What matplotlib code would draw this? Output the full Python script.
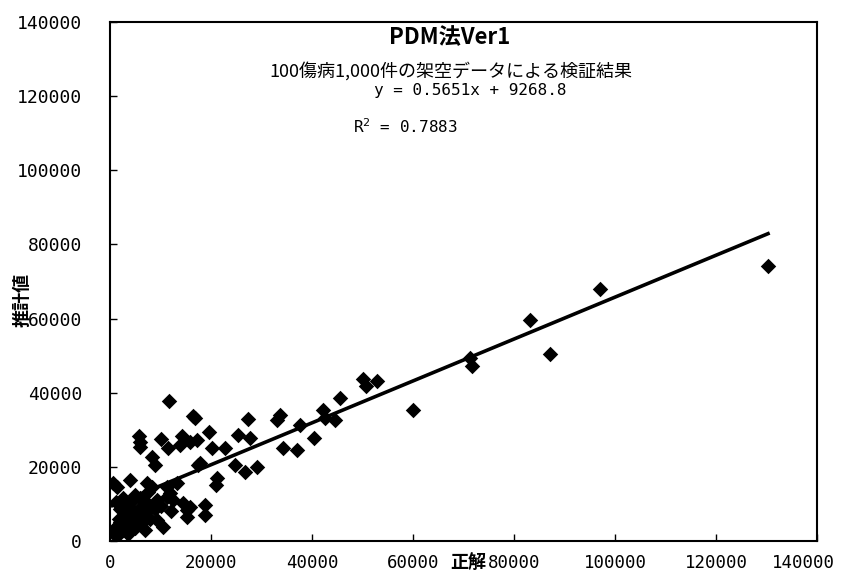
import matplotlib
matplotlib.use("Agg")
import matplotlib.pyplot as plt
import matplotlib.transforms as mtransforms
import numpy as np

plt.rcParams['font.family'] = ['Noto Sans CJK JP', 'DejaVu Sans']

# 正解 (true value) and 推計値 (estimated value)
x_true = [130300, 97000, 87100, 83200, 71300, 71700, 60000, 50100, 50700, 52900,
          45500, 42200, 42600, 44600, 40400, 37600, 37000,
          11700, 16400, 16800, 27300, 33700, 33100,
          5700, 5900, 5900, 10100, 11500, 14300, 13900, 15800, 17200, 19600,
          20200, 22800, 25300, 27700, 34300,
          8300, 8900, 17800, 24800, 26700, 29100, 21200, 21000,
          500, 1400, 4000, 18800, 15200, 5900,
          7300, 8300, 7500, 11300, 11900, 13300, 17400,
          14500, 15800, 15200, 18800, 9300, 11300, 12500, 9300, 10500,
          1000, 1500, 2000, 2500, 3000, 3500, 4000, 4500, 5000, 5500,
          6000, 6500, 7000, 2000, 3500, 1200, 4500, 6000, 7500, 8000,
          1800, 3000, 800, 2500, 5000, 7000, 9000, 10000, 12000]
y_est = [74200, 68000, 50400, 59600, 49400, 47200, 35300, 43700, 41800, 43200,
         38600, 35300, 33200, 32600, 27800, 31300, 24500,
         37800, 33700, 33200, 32900, 34000, 32600,
         28300, 26700, 25400, 27500, 25100, 28300, 25900, 26700, 27200, 29400,
         25100, 25100, 28600, 27800, 25100,
         22700, 20500, 21000, 20500, 18600, 20000, 17000, 15100,
         15600, 14600, 16500, 9700, 8400, 4900,
         15600, 14600, 13200, 14600, 12900, 15600, 20500,
         10200, 9200, 6500, 7000, 11000, 11900, 11000, 5700, 3800,
         3500, 1500, 5000, 3000, 7000, 2000, 5500, 8000, 3500, 6500,
         9000, 5000, 7500, 8500, 9500, 10500, 11000, 11500, 10000, 6000,
         6000, 4000, 2000, 11500, 12500, 3000, 8500, 9500, 8000]

slope = 0.5651
intercept = 9268.8
x_ticks = [0, 20000, 40000, 60000, 80000, 100000, 120000, 140000]
y_ticks = [0, 20000, 40000, 60000, 80000, 100000, 120000, 140000]

fig = plt.figure(figsize=(8.44, 5.82), dpi=100)
ax = fig.add_axes([110/844, 41/582, 707/844, 519/582])

ax.scatter(x_true, y_est, marker='D', s=62, color='black', linewidths=0, zorder=3)
xl = np.array([min(x_true), max(x_true)])
ax.plot(xl, slope*xl + intercept, color='black', lw=2.6, zorder=4)

ax.set_xlim(0, 140000)
ax.set_ylim(0, 140000)
ax.set_xticks(x_ticks)
ax.set_yticks(y_ticks)
ax.set_xticklabels([str(v) for v in x_ticks], fontsize=12.5, family='DejaVu Sans Mono')
ax.set_yticklabels([str(v) for v in y_ticks], fontsize=13, family='DejaVu Sans Mono')
ax.tick_params(direction='in', length=5, width=1)
ax.tick_params(axis='y', pad=20)
ax.tick_params(axis='x', pad=9)
for s in ax.spines.values():
    s.set_linewidth(1.5)

# shift last x tick label slightly left so it stays inside the figure
last = ax.get_xticklabels()[-1]
last.set_transform(last.get_transform() + mtransforms.ScaledTranslation(-14/100, 0, fig.dpi_scale_trans))

fig.text(450/844, 1-38/582, 'PDM法Ver1', ha='center', va='center', fontsize=16, fontweight='bold')
fig.text(451/844, 1-71/582, '100傷病1,000件の架空データによる検証結果', ha='center', va='center', fontsize=13)
fig.text(470/844, 1-91/582, 'y = 0.5651x + 9268.8', ha='center', va='center', fontsize=11.5,
         family='DejaVu Sans Mono')
fig.text(405/844, 1-127/582, 'R$^2$ = 0.7883', ha='center', va='center', fontsize=11.5,
         family='DejaVu Sans Mono')
fig.text(22/844, 1-300/582, '推計値', ha='center', va='center', rotation=90, fontsize=13, fontweight='bold')
fig.text(468/844, 1-563/582, '正解', ha='center', va='center', fontsize=13, fontweight='bold')

fig.savefig('out.png', dpi=100)
